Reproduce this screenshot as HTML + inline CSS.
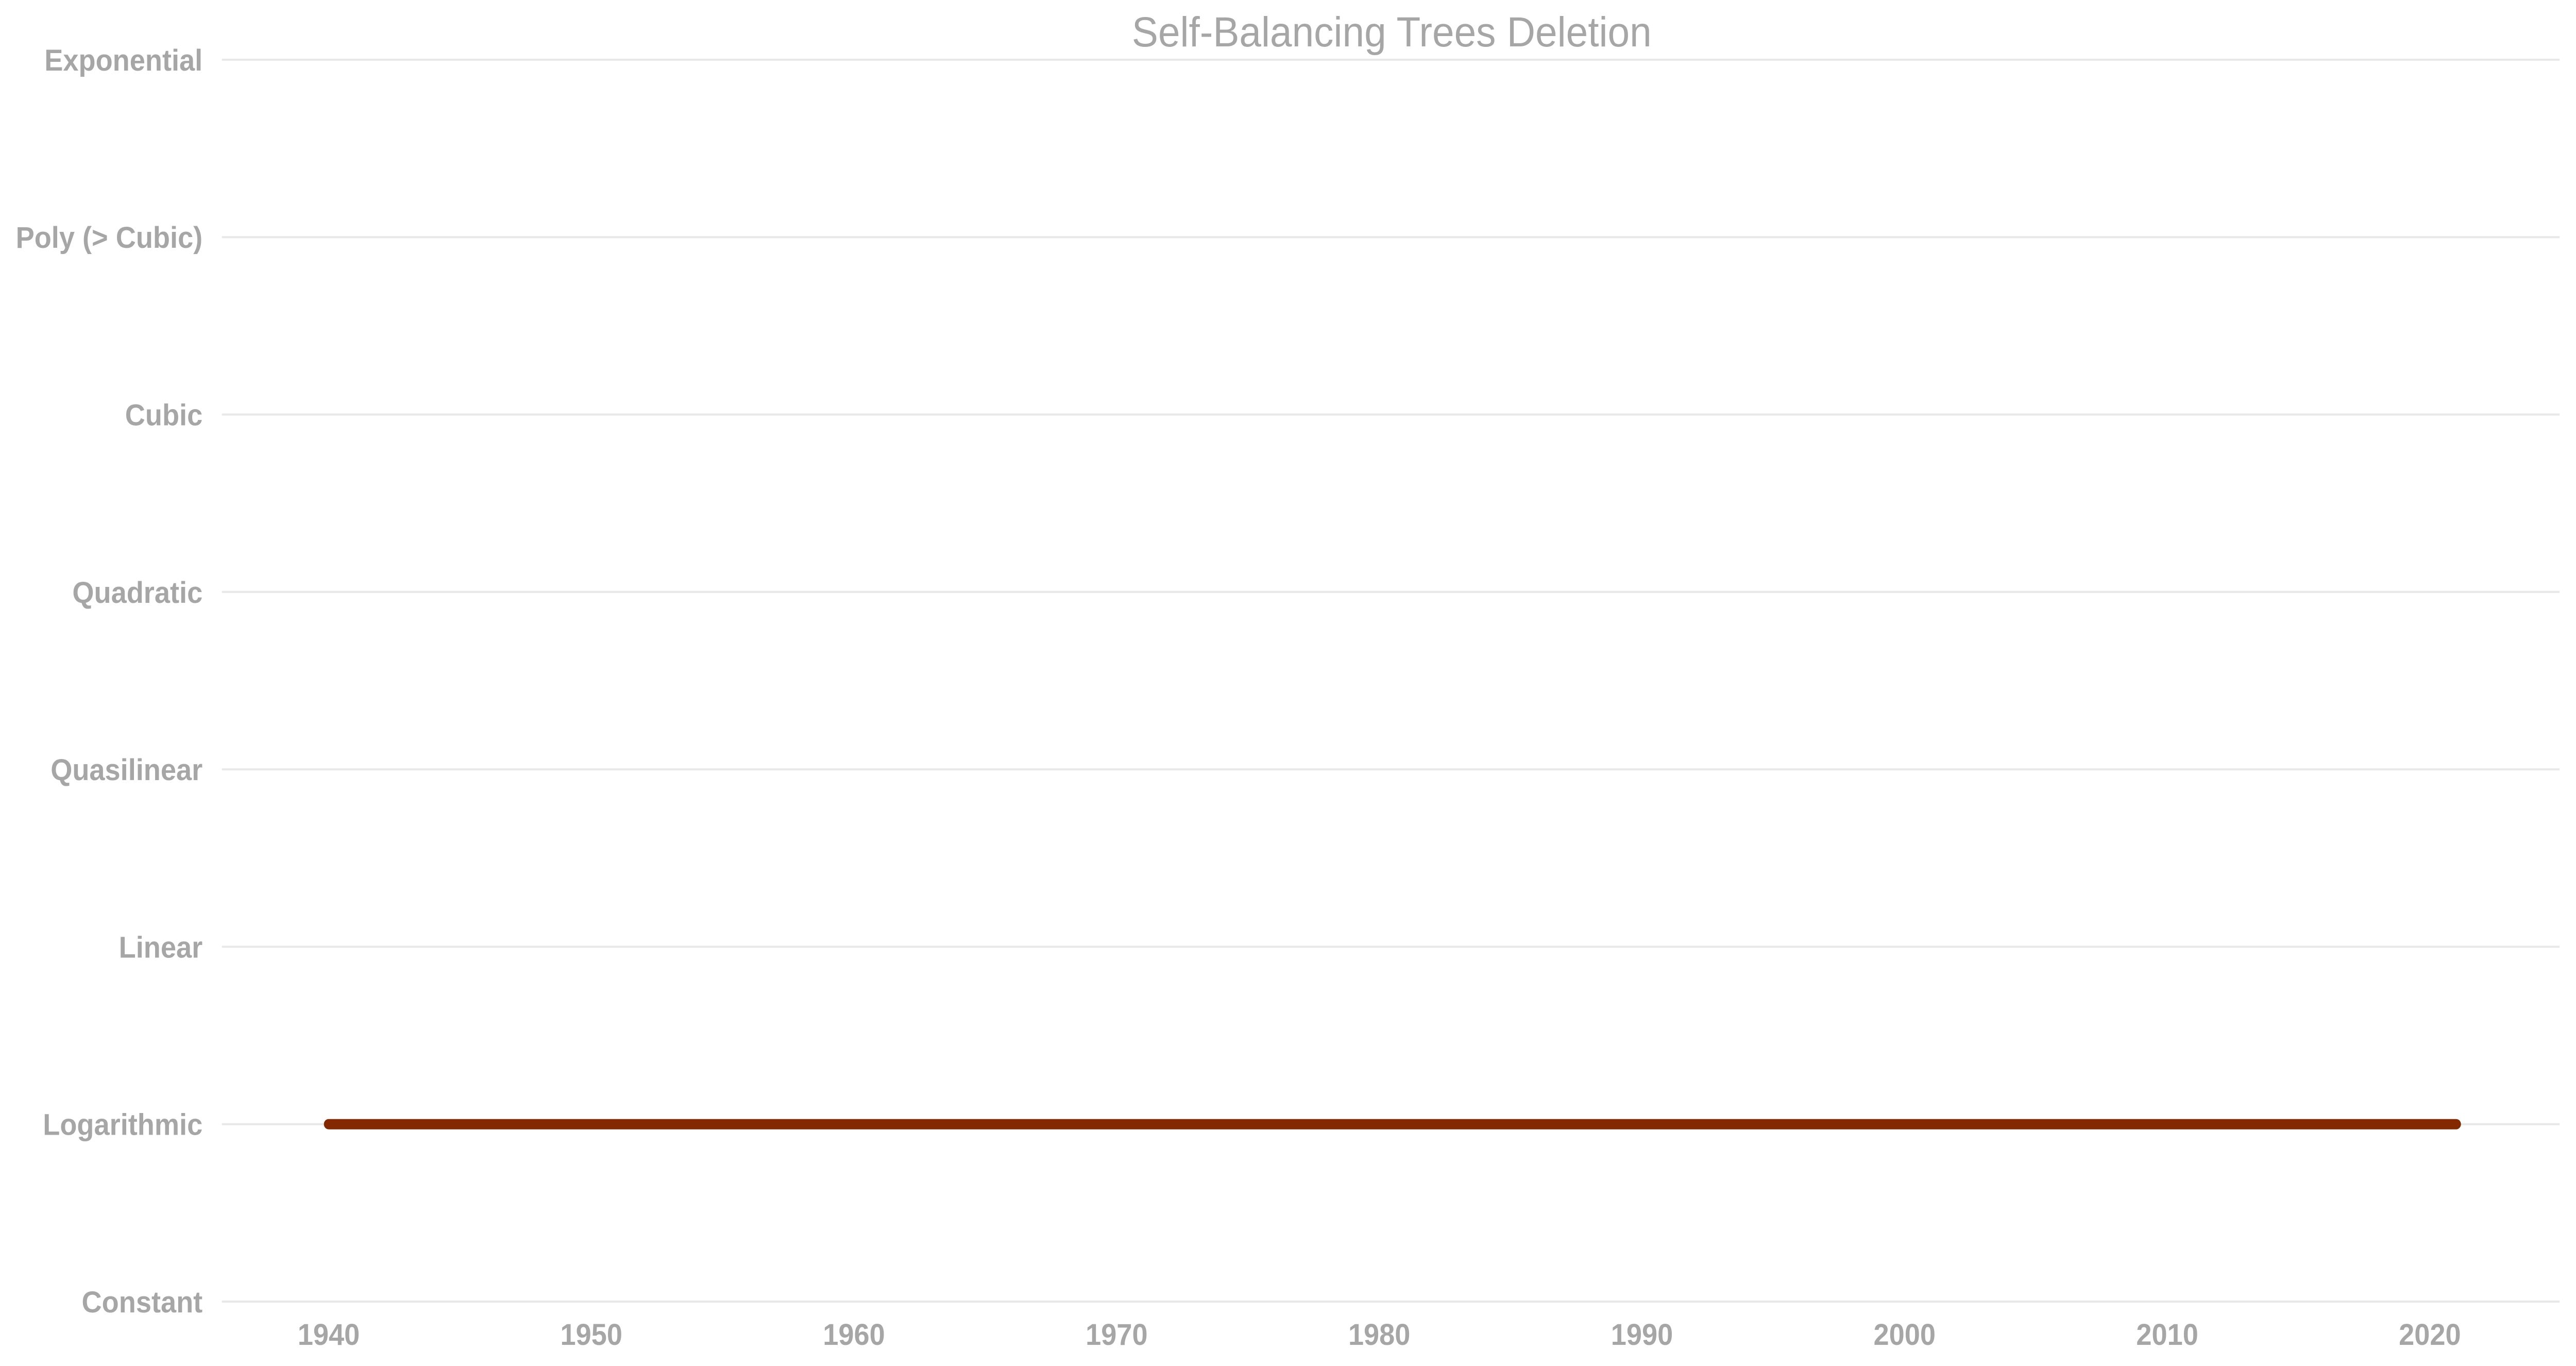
<!DOCTYPE html>
<html><head><meta charset="utf-8"><style>
html,body{margin:0;padding:0;background:#fff;width:100%;height:100%;overflow:hidden;}
svg{display:block;position:absolute;left:0;top:0;width:100vw;height:100vh;}
text{font-family:"Liberation Sans",Arial,sans-serif;fill:#a6a6a6;}
</style></head><body>
<svg id="chart" viewBox="0 0 5353 2651" preserveAspectRatio="none" xmlns="http://www.w3.org/2000/svg">
<text x="2892" y="90" font-size="82" text-anchor="middle">Self-Balancing Trees Deletion</text>
<g id="grid"></g>
<g id="ylabels"></g>
<g id="xlabels"></g>
<g id="series"></g>
</svg>
<script>
const categories = ["Constant","Logarithmic","Linear","Quasilinear","Quadratic","Cubic","Poly (> Cubic)","Exponential"];
const xTicks = [1940,1950,1960,1970,1980,1990,2000,2010,2020];
const seriesYears = [1940,2021];
const seriesLevels = ["Logarithmic","Logarithmic"];

const NS="http://www.w3.org/2000/svg";
function xScale(y){return 683+(y-1940)*54.58;}
function yScale(c){return 2526-categories.indexOf(c)*344.3;}
function mk(tag,attrs,parent){const e=document.createElementNS(NS,tag);for(const k in attrs)e.setAttribute(k,attrs[k]);parent.appendChild(e);return e;}

const grid=document.getElementById('grid'),yl=document.getElementById('ylabels'),xl=document.getElementById('xlabels'),ser=document.getElementById('series');
categories.forEach(c=>{
  const y=yScale(c);
  const g=mk('line',{x1:461,x2:5319,y1:y,y2:y,stroke:'#e8e8e8','stroke-width':4},grid);
  
  
  const t=mk('text',{x:421,y:y+21,'font-size':58,'font-weight':'bold','text-anchor':'end'},yl);
  t.textContent=c;
  
  
});
xTicks.forEach(v=>{
  const t=mk('text',{x:xScale(v),y:2610,'font-size':58,'font-weight':'bold','text-anchor':'middle'},xl);
  t.textContent=v;
  
  
});
const pts=seriesYears.map((yr,i)=>xScale(yr)+','+yScale(seriesLevels[i])).join(' ');
const pl=mk('polyline',{points:pts,fill:'none',stroke:'#842800','stroke-width':20,'stroke-linecap':'round','stroke-linejoin':'round'},ser);


</script>
</body></html>
